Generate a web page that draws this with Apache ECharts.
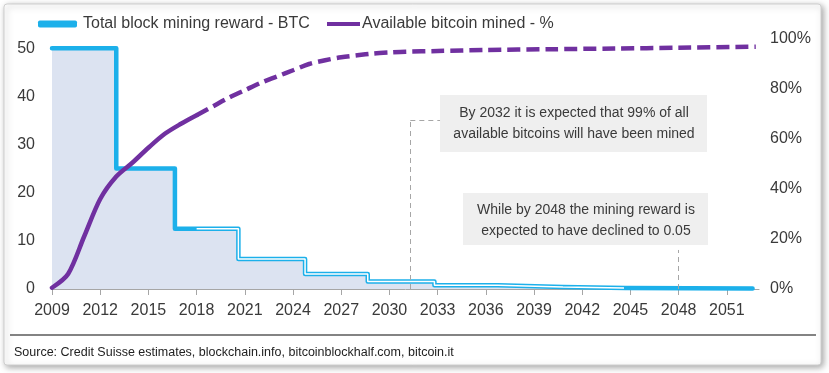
<!DOCTYPE html>
<html><head><meta charset="utf-8">
<script src="https://cdn.jsdelivr.net/npm/echarts@6/dist/echarts.min.js"></script>
<style>html,body{margin:0;padding:0;background:#fff}#c{width:829px;height:373px}</style>
</head><body><div id="c"></div>
<script>
// ---- data ----
const xTickLabels = [2009, 2012, 2015, 2018, 2021, 2024, 2027, 2030, 2033, 2036, 2039, 2042, 2045, 2048, 2051];
const leftTickLabels = [0, 10, 20, 30, 40, 50];
const rightTickLabels = [0, 20, 40, 60, 80, 100];

const halvingYears = [2009, 2013.0, 2016.65, 2020.6, 2024.75, 2028.65, 2032.8, 2036.75, 2040.8, 2044.7];
const rewardBTC    = [50, 25, 12.5, 6.25, 3.125, 1.5625, 0.78125, 0.390625, 0.1953125, 0.09765625];
const rewardEndYear = 2052.6;
const rewardOutlineFrom = 2018;
const rewardOutlineTo = 2044.6;

const minedYears = [2009, 2010, 2011, 2012, 2013, 2014, 2015, 2016, 2017, 2018, 2019, 2020, 2021, 2022, 2023, 2024, 2025, 2026, 2027, 2028, 2029, 2030, 2031, 2033, 2036, 2040, 2044, 2048, 2052.8];
const minedPct   = [0.5, 6, 21, 36, 45, 50.5, 56.5, 62, 66, 69.5, 73, 76.5, 79.5, 82.5, 85, 87.5, 90, 91.5, 92.7, 93.5, 94.2, 94.6, 94.9, 95.2, 95.6, 95.9, 96.2, 96.5, 96.9];
const minedSplitYear = 2018;

const seriesNames = ['Total block mining reward - BTC', 'Available bitcoin mined - %'];
const note1 = ['By 2032 it is expected that 99% of all', 'available bitcoins will have been mined'];
const note2 = ['While by 2048 the mining reward is', 'expected to have declined to 0.05'];
const sourceText = 'Source: Credit Suisse estimates, blockchain.info, bitcoinblockhalf.com, bitcoin.it';
const note1Year = 2031.3, note1Top = 35.06, note1BoxYear = 2033.15;
const note2Year = 2048.0, note2Top = 8.1;

// ---- helpers ----
function rewardAt(x) { let v = rewardBTC[0]; halvingYears.forEach((h, i) => { if (h <= x) v = rewardBTC[i]; }); return v; }
function stepPoints(a, b) {
  const pts = [[a, rewardAt(a)]];
  halvingYears.forEach((h, i) => { if (h > a && h < b) pts.push([h, rewardBTC[i]]); });
  pts.push([b, rewardAt(b)]);
  return pts;
}
const minedSolid = [], minedDashed = [];
minedYears.forEach((y, i) => {
  if (y <= minedSplitYear) minedSolid.push([y, minedPct[i]]);
  if (y >= minedSplitYear) minedDashed.push([y, minedPct[i]]);
});

const FONT = "'Liberation Sans', Arial, sans-serif";
const TXT = '#3a3a3a';
const BLUE = '#1cb0ea';
const PURPLE = '#7030a0';

const chart = echarts.init(document.getElementById('c'), null, { renderer: 'canvas' });
chart.setOption({
  backgroundColor: '#fff',
  animation: false,
  textStyle: { fontFamily: FONT },
  grid: { left: 52, right: 70, top: 39, bottom: 84, containLabel: false },
  legend: [
    { data: [{ name: seriesNames[0], icon: 'roundRect' }], left: 33, top: 11, itemWidth: 39, itemHeight: 7, itemGap: 0,
      textStyle: { fontFamily: FONT, fontSize: 16, color: TXT, padding: [0, 0, 0, 1] }, selectedMode: false },
    { data: [{ name: seriesNames[1], icon: 'rect' }], left: 322, top: 11, itemWidth: 33, itemHeight: 4, itemGap: 0,
      textStyle: { fontFamily: FONT, fontSize: 16, color: TXT, padding: [0, 0, 0, -3] }, selectedMode: false }
  ],
  xAxis: {
    type: 'value', min: 2009, max: 2053,
    axisLine: { show: true, lineStyle: { color: '#a6a6a6', width: 1 } },
    axisTick: { show: true, length: 6, lineStyle: { color: '#a6a6a6' }, customValues: xTickLabels },
    axisLabel: { customValues: xTickLabels, formatter: v => String(v), fontFamily: FONT, fontSize: 16, color: TXT, margin: 14 },
    splitLine: { show: false }
  },
  yAxis: [
    { type: 'value', min: 0, max: 51.9,
      axisLine: { show: false }, axisTick: { show: false }, splitLine: { show: false },
      axisLabel: { customValues: leftTickLabels, fontFamily: FONT, fontSize: 16, color: TXT, margin: 17 } },
    { type: 'value', min: 0, max: 100, interval: 20, position: 'right',
      axisLine: { show: false }, axisTick: { show: false }, splitLine: { show: false },
      axisLabel: { customValues: rightTickLabels, formatter: '{value}%', fontFamily: FONT, fontSize: 16, color: TXT, margin: 11 } }
  ],
  graphic: [
    { type: 'rect', z: -10, shape: { x: 4, y: 4, width: 817, height: 361, r: 3 },
      style: { fill: '#fff', stroke: '#cfcfcf', lineWidth: 1, shadowBlur: 6, shadowColor: 'rgba(0,0,0,0.35)', shadowOffsetX: 2, shadowOffsetY: 2 } },
    { type: 'line', z: 10, shape: { x1: 10, y1: 335, x2: 816, y2: 335 }, style: { stroke: '#5a5a5a', lineWidth: 1.5 } },
    { type: 'text', z: 10, left: 14, top: 346, style: { text: sourceText, font: "12.5px " + FONT, fill: '#222' } },
    { type: 'group', z: 10, children: [
      { type: 'rect', shape: { x: 440, y: 95, width: 267, height: 57 }, style: { fill: '#efefef' } },
      { type: 'text', x: 574, y: 124, style: { text: note1.join('\n'), font: "14px " + FONT, fill: TXT, align: 'center', verticalAlign: 'middle', lineHeight: 21 } },
      { type: 'rect', shape: { x: 463, y: 193, width: 245, height: 52 }, style: { fill: '#efefef' } },
      { type: 'text', x: 586, y: 221, style: { text: note2.join('\n'), font: "14px " + FONT, fill: TXT, align: 'center', verticalAlign: 'middle', lineHeight: 21 } }
    ] }
  ],
  series: [
    { name: seriesNames[0], type: 'line', step: 'end', data: stepPoints(2009, rewardEndYear), yAxisIndex: 0,
      symbol: 'none', itemStyle: { color: BLUE }, lineStyle: { color: BLUE, width: 4.5, cap: 'round', join: 'round' },
      areaStyle: { color: '#dce3f1', opacity: 1, origin: 'start' }, z: 2,
      markLine: { silent: true, symbol: 'none', label: { show: false },
        lineStyle: { color: '#a6a6a6', type: [5, 4], width: 1 },
        data: [
          [{ coord: [note1Year, 0] }, { coord: [note1Year, note1Top] }],
          [{ coord: [note1Year, note1Top] }, { coord: [note1BoxYear, note1Top] }],
          [{ coord: [note2Year, 0] }, { coord: [note2Year, note2Top] }]
        ] } },
    { name: 'outline', type: 'line', step: 'end', data: stepPoints(rewardOutlineFrom, rewardOutlineTo), yAxisIndex: 0,
      symbol: 'none', lineStyle: { color: '#ffffff', width: 1.5 }, z: 3 },
    { name: seriesNames[1], type: 'line', data: minedSolid, yAxisIndex: 1, smooth: 0.3,
      symbol: 'none', itemStyle: { color: PURPLE }, lineStyle: { color: PURPLE, width: 4.5, cap: 'round' }, z: 4 },
    { name: seriesNames[1], type: 'line', data: minedDashed, yAxisIndex: 1, smooth: 0.3,
      symbol: 'none', itemStyle: { color: PURPLE }, lineStyle: { color: PURPLE, width: 4.5, type: [13, 6], cap: 'butt' }, z: 4 }
  ]
});
</script>
</body></html>
